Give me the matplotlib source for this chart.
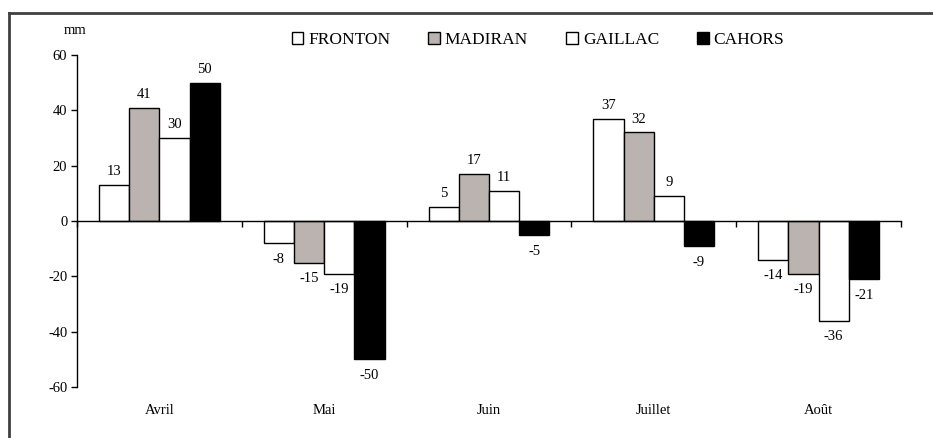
import numpy as np
import matplotlib
matplotlib.use("Agg")
import matplotlib.pyplot as plt
from matplotlib.lines import Line2D
from matplotlib.transforms import blended_transform_factory

plt.rcParams["font.family"] = ["Liberation Serif", "DejaVu Serif"]

# Monthly water balance deviation (mm) per appellation
months = ["Avril", "Mai", "Juin", "Juillet", "Août"]
series_names = ["FRONTON", "MADIRAN", "GAILLAC", "CAHORS"]
fronton = [13, -8, 5, 37, -14]
madiran = [41, -15, 17, 32, -19]
gaillac = [30, -19, 11, 9, -36]
cahors = [50, -50, -5, -9, -21]
y_ticks = [-60, -40, -20, 0, 20, 40, 60]

series = [fronton, madiran, gaillac, cahors]
colors = ["white", "#BAB3AF", "white", "black"]

fig = plt.figure(figsize=(9.33, 4.38), dpi=100)
ax = fig.add_axes([77 / 933, 51 / 438, 824 / 933, 332 / 438])

x = np.arange(len(months))
w = 0.183
handles = []
for k, (vals, col, name) in enumerate(zip(series, colors, series_names)):
    xs = x + (k - 1.5) * w
    bars = ax.bar(xs, vals, width=w, color=col, edgecolor="black",
                  linewidth=1.0, label=name, zorder=2)
    handles.append(bars)
    for xi, v in zip(xs, vals):
        off = 5 if v >= 0 else -7
        ax.annotate(f"{v}", (xi, v), xytext=(0, off), textcoords="offset points",
                    ha="center", va="bottom" if v >= 0 else "top", fontsize=10.5)

ax.set_xlim(-0.5, len(months) - 0.5)
ax.set_ylim(-60, 60)
ax.set_yticks(y_ticks)
ax.set_yticklabels([str(t) for t in y_ticks], fontsize=10.5)
ax.tick_params(axis="y", direction="out", length=4, width=1, pad=3)

# category axis sits on the zero line, ticks at group boundaries
ax.spines["bottom"].set_position(("data", 0))
ax.spines["top"].set_visible(False)
ax.spines["right"].set_visible(False)
ax.spines["left"].set_linewidth(1.0)
ax.spines["bottom"].set_linewidth(1.0)
ax.set_xticks(np.arange(len(months) + 1) - 0.5)
ax.set_xticklabels([])
ax.tick_params(axis="x", direction="out", length=4, width=1)

trans = blended_transform_factory(ax.transData, ax.transAxes)
for xi, m in zip(x, months):
    ax.text(xi, -0.07, m, transform=trans, ha="center", va="center", fontsize=10.5)

fig.text(75 / 933, 1 - 30 / 438, "mm", ha="center", va="center", fontsize=10.5)

fig.legend(handles=handles, labels=series_names, loc="center",
           bbox_to_anchor=(538 / 933, 1 - 40 / 438), ncol=4, frameon=False,
           handlelength=0.65, handleheight=0.65, handletextpad=0.3,
           columnspacing=2.2, fontsize=12.5)

# frame lines along the top and left of the figure
fig.add_artist(Line2D([9 / 933, 1], [1 - 13 / 438] * 2, color="#404040",
                      linewidth=2, transform=fig.transFigure))
fig.add_artist(Line2D([9 / 933] * 2, [0, 1 - 13 / 438], color="#404040",
                      linewidth=2, transform=fig.transFigure))

fig.savefig("out.png", dpi=100)
